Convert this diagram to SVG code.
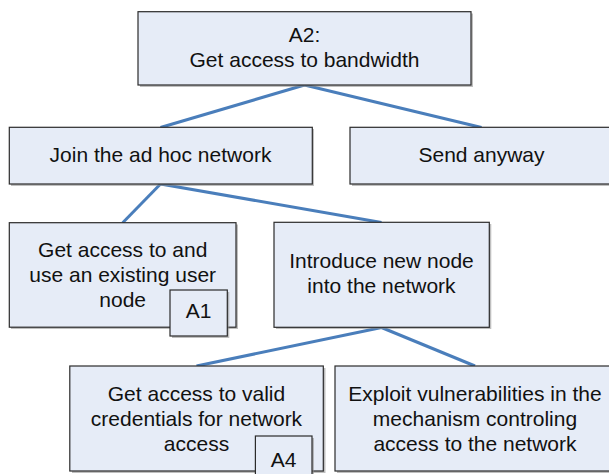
<svg xmlns="http://www.w3.org/2000/svg" width="609" height="474" viewBox="0 0 609 474">
<style>
.sh{fill:#8a8a8a;opacity:0.55}
.bx{fill:#e6ecf7;stroke:#2b2b2b;stroke-width:1.2}
.t{font-family:"Liberation Sans",Arial,sans-serif;font-size:21px;fill:#111;text-anchor:middle}
.c{stroke:#4a7ebb;stroke-width:3;fill:none;stroke-linecap:butt}
</style>
<rect width="609" height="474" fill="#ffffff"/>
<g id="connectors">
<line class="c" x1="304.5" y1="85" x2="160.5" y2="127.5"/>
<line class="c" x1="304.5" y1="85" x2="481.5" y2="127.5"/>
<line class="c" x1="160.5" y1="184" x2="122.7" y2="222.7"/>
<line class="c" x1="160.5" y1="184" x2="381.5" y2="222.5"/>
<line class="c" x1="381.5" y1="327.5" x2="196.5" y2="366"/>
<line class="c" x1="381.5" y1="327.5" x2="475" y2="366"/>
</g>
<g id="a2">
<rect class="sh" x="140" y="13.5" width="333" height="73.5"/>
<rect class="bx" x="138" y="11.7" width="333" height="73.3"/>
<text class="t" x="304.5" y="42.3">A2:</text>
<text class="t" x="304.5" y="66.7">Get access to bandwidth</text>
</g>
<g id="join">
<rect class="sh" x="11" y="129" width="303" height="57"/>
<rect class="bx" x="9.3" y="127.3" width="303" height="56.7"/>
<text class="t" x="160.5" y="162">Join the ad hoc network</text>
</g>
<g id="send">
<rect class="sh" x="352" y="129" width="265" height="57"/>
<rect class="bx" x="350" y="127.3" width="263" height="56.7"/>
<text class="t" x="481.5" y="162">Send anyway</text>
</g>
<g id="existing">
<rect class="sh" x="11" y="224.5" width="227" height="104.5"/>
<rect class="bx" x="9.3" y="222.7" width="226.7" height="104.5"/>
<text class="t" x="122.7" y="256.7">Get access to and</text>
<text class="t" x="122.7" y="281.7">use an existing user</text>
<text class="t" x="122.7" y="306.7">node</text>
</g>
<g id="a1">
<rect class="sh" x="172" y="292" width="57.3" height="46"/>
<rect class="bx" x="170" y="290" width="57.3" height="46"/>
<text class="t" x="198.6" y="318.3">A1</text>
</g>
<g id="introduce">
<rect class="sh" x="276" y="224" width="215.3" height="105"/>
<rect class="bx" x="274" y="222.3" width="215.3" height="105"/>
<text class="t" x="381.5" y="268.3">Introduce new node</text>
<text class="t" x="381.5" y="293.3">into the network</text>
</g>
<g id="credentials">
<rect class="sh" x="72" y="368" width="253.5" height="105"/>
<rect class="bx" x="69.8" y="366" width="253.5" height="105"/>
<text class="t" x="196.5" y="401">Get access to valid</text>
<text class="t" x="196.5" y="426">credentials for network</text>
<text class="t" x="196.5" y="451">access</text>
</g>
<g id="a4">
<rect class="sh" x="257.4" y="438" width="56.6" height="46"/>
<rect class="bx" x="255.4" y="436" width="56.6" height="46"/>
<text class="t" x="283.7" y="467">A4</text>
</g>
<g id="exploit">
<rect class="sh" x="337" y="368" width="282" height="105"/>
<rect class="bx" x="335" y="366" width="280" height="105"/>
<text class="t" x="475" y="401">Exploit vulnerabilities in the</text>
<text class="t" x="475" y="426">mechanism controling</text>
<text class="t" x="475" y="451">access to the network</text>
</g>
</svg>
